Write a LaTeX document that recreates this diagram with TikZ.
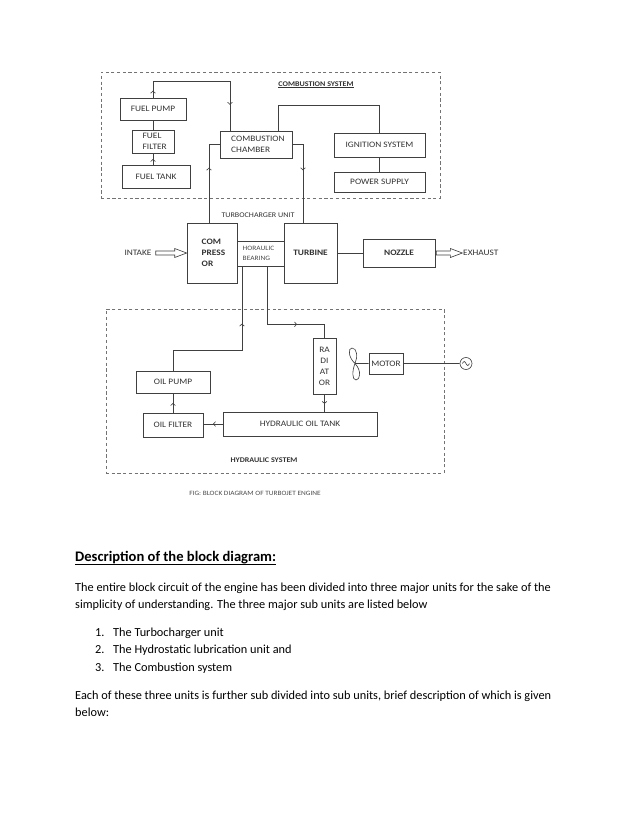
\documentclass[tikz,border=0pt]{standalone}
\usepackage{fontspec}
\setmainfont{Carlito}
\newfontfamily\dfam[FakeStretch=1.12]{Carlito}
\usetikzlibrary{fit,arrows.meta,decorations.markings}
\newcommand\diagfont{\dfam\fontsize{8}{10.6}\selectfont}
\newcommand\labfont{\dfam\fontsize{6.9}{9}\selectfont}
\newcommand\smallfont{\dfam\fontsize{6.4}{9.6}\selectfont}
\newcommand\figfont{\dfam\fontsize{6.3}{8}\selectfont}
\newcommand\bodyfont{\fontsize{11.8}{14}\selectfont}
\begin{document}
\begin{tikzpicture}[x=0.96pt,y=-0.96pt,
  barb/.tip={Straight Barb[length=2pt,width=4.5pt]},
  box/.style={draw=black!75, line width=0.6pt, inner sep=0pt},
  dbox/.style={draw=black!55, line width=0.6pt, dash pattern=on 3pt off 2.5pt, inner sep=0pt},
  conn/.style={draw=black!75, line width=0.6pt},
  amark/.style={postaction={decorate}, decoration={markings, mark=at position #1 with {\arrow{barb}}}},
  amarks/.style 2 args={postaction={decorate}, decoration={markings, mark=at position #1 with {\arrow{barb}}, mark=at position #2 with {\arrow{barb}}}},
  lbl/.style={inner sep=0pt, text=black!80, font=\diagfont},
  body/.style={inner sep=0pt, anchor=base west, font=\bodyfont, text=black}]
\useasboundingbox[fill=white] (0,0) rectangle (638,826);

% dashed system boxes
\node[dbox, fit={(101,72) (440,198)}] (comb) {};
\node[dbox, fit={(106,309) (444,473)}] (hyd) {};

% combustion system
\node[box, fit={(120,98) (186,120)}] (fp) {};
\node[lbl] (fp_t) at (fp.center) {FUEL PUMP};
\node[box, fit={(132,130) (174,153)}] (fil) {};
\node[lbl, anchor=west, align=left] (filt_t) at (142.5,141.5) {FUEL\\FILTER};
\node[box, fit={(122,165) (190,188)}] (ft) {};
\node[lbl] (ft_t) at (ft.center) {FUEL TANK};
\node[box, fit={(220,131) (292,158)}] (cc) {};
\node[lbl, anchor=west, align=left] (cc_t) at (231,144.5) {COMBUSTION\\CHAMBER};
\node[box, fit={(334,133) (425,157)}] (ign) {};
\node[lbl] (ign_t) at (ign.center) {IGNITION SYSTEM};
\node[box, fit={(334,172) (425,192)}] (ps) {};
\node[lbl] (ps_t) at (ps.center) {POWER SUPPLY};
\node[lbl, font=\labfont\bfseries] (combl) at (316,84) {COMBUSTION SYSTEM};
\draw[black!80, line width=0.4pt] ([yshift=-1.2pt]combl.base west) -- ([yshift=-1.2pt]combl.base east);

% turbocharger unit
\node[box, fit={(187,223) (237,283)}] (comp) {};
\node[lbl, anchor=west, align=left, font=\diagfont\bfseries] (comp_t) at (201.5,253) {COM\\PRESS\\OR};
\node[box, fit={(237,241) (284,266)}] (brg) {};
\node[lbl, anchor=west, align=left, font=\smallfont, text=black!70] (brg_t) at (242.5,253.5) {HORAULIC\\BEARING};
\node[box, fit={(284,223) (337,283)}] (turb) {};
\node[lbl, font=\diagfont\bfseries] (turb_t) at (turb.center) {TURBINE};
\node[box, fit={(363,239) (435,267)}] (noz) {};
\node[lbl, font=\diagfont\bfseries] (noz_t) at (noz.center) {NOZZLE};
\node[lbl, font=\labfont] (tcl) at (258,215) {TURBOCHARGER UNIT};
\node[lbl] (intake) at (138,253) {INTAKE};
\node[lbl, anchor=west] (exh) at (463,253) {EXHAUST};

% hydraulic system
\node[box, fit={(313,338) (336,394)}] (rad) {};
\node[lbl, align=center] (rad_t) at (rad.center) {RA\\DI\\AT\\OR};
\node[box, fit={(369,353) (403,374)}] (motor) {};
\node[lbl] (motor_t) at (motor.center) {MOTOR};
\node[box, fit={(136,371) (210,393)}] (pump) {};
\node[lbl] (pump_t) at (pump.center) {OIL PUMP};
\node[box, fit={(143,413) (203,437)}] (filt) {};
\node[lbl] (filt_t2) at (filt.center) {OIL FILTER};
\node[box, fit={(223,412) (377,436)}] (tank) {};
\node[lbl] (tank_t) at (tank.center) {HYDRAULIC OIL TANK};
\node[lbl, font=\labfont\bfseries] (hydl) at (264,460) {HYDRAULIC SYSTEM};
\node[lbl, font=\figfont, text=black!70] (fig) at (255,493) {FIG: BLOCK DIAGRAM OF TURBOJET ENGINE};
\coordinate (fan) at (355,363.5);
\node[draw=black!75, line width=0.6pt, circle, inner sep=0pt, minimum size=11.5pt] (src) at (466,363.5) {};

% connectors: combustion
\draw[conn, amark=0.5] (fil.south |- ft.north) -- (fil.south);
\draw[conn] (fil.north) -- (fil.north |- fp.south);
\draw[conn, amarks={6.7pt}{111.4pt}] (fp.north) -- ++(0,-16) -| ([xshift=-25pt]cc.north);
\draw[conn] ([xshift=21.1pt]cc.north) -- ++(0,-25) -| (ign.north);
\draw[conn] (ign.south) -- (ign.south |- ps.north);
\draw[conn, amark=52.8pt] ([xshift=-2.9pt]comp.north) |- (cc.west);
\draw[conn, amark=35pt] (cc.east) -| ([xshift=-7.2pt]turb.north);

% connectors: turbo
\draw[conn] (turb.east |- noz.west) -- (noz.west);
\draw[conn] (comp.west) -- ++(-12,-4.5) -- ++(0,2.5) -- ++(-19,0) -- ++(0,4) -- ++(19,0) -- ++(0,2.5) -- cycle;
\draw[conn] ([xshift=1pt]noz.east) ++(0,-2) -- ++(14,0) -- ++(0,-2.5) -- ++(12,4.5) -- ++(-12,4.5) -- ++(0,-2.5) -- ++(-14,0) -- cycle;

% connectors: hydraulic
\draw[conn, amark=111.4pt] (pump.north) -- ++(0,-20) -| ([xshift=-17.8pt]brg.south);
\draw[conn, amark=84.5pt] ([xshift=6.2pt]brg.south) -- ++(0,58) -| (rad.north);
\draw[conn, amark=0.55] (rad.south) -- (rad.south |- tank.north);
\draw[conn, amark=0.5] (tank.west) -- (tank.west -| filt.east);
\draw[conn, amark=0.5] (filt.north -| pump.south) -- (pump.south);
\draw[conn] (fan) -- (motor.west);
\draw[conn] (motor.east) -- (src.west);
\draw[conn] (fan) .. controls (348,357) and (348,348) .. (352,348) .. controls (357,348) and (358,357) .. (fan);
\draw[conn] (fan) .. controls (352,371) and (352,380) .. (356,380) .. controls (360,380) and (362,371) .. (fan);
\draw[conn] ([xshift=-3.4pt]src.center) sin ++(1.75,-2) cos ++(1.75,2) sin ++(1.75,2) cos ++(1.75,-2);

% description text
\node[body, font=\fontsize{14}{16}\selectfont\bfseries] (head) at (75,561) {Description of the block diagram:};
\draw[line width=1pt] ([yshift=-3.2pt]head.base west) -- ([yshift=-3.2pt]head.base east);
\node[body] (p1) at (75,591) {The entire block circuit of the engine has been divided into three major units for the sake of the};
\node[body] (p2) at (75,608) {simplicity of understanding. The three major sub units are listed below};
\node[body] (n1) at (95,636) {1.};
\node[body] (l1) at (113,636) {The Turbocharger unit};
\node[body] (n2) at (95,653) {2.};
\node[body] (l2) at (113,653) {The Hydrostatic lubrication unit and};
\node[body] (n3) at (95,671) {3.};
\node[body] (l3) at (113,671) {The Combustion system};
\node[body] (p3) at (75,699) {Each of these three units is further sub divided into sub units, brief description of which is given};
\node[body] (p4) at (75,716) {below:};
\end{tikzpicture}
\end{document}
